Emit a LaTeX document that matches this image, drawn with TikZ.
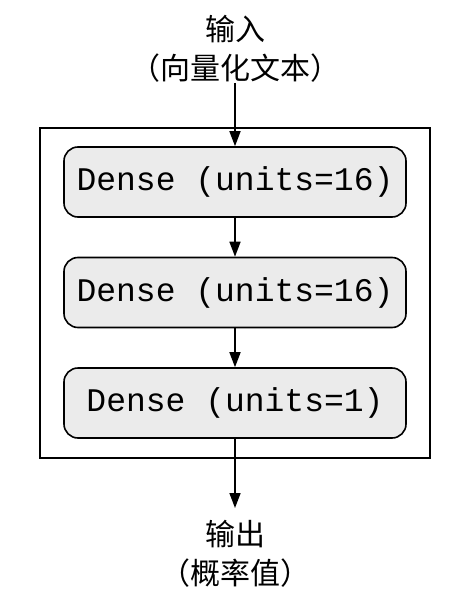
\documentclass[tikz,border=0pt]{standalone}
\usepackage{fontspec}
\newfontfamily\cjk{Noto Sans CJK SC}
\newfontfamily\monof{Liberation Mono}
\usetikzlibrary{arrows.meta}
\begin{document}
\begin{tikzpicture}[x=1pt,y=-1pt,
  layer/.style={draw=black, line width=1.6pt, rounded corners=14pt, fill=black!8, minimum width=342pt, minimum height=70pt, inner sep=0pt, font=\monof\fontsize{33}{36}\selectfont},
  lbl/.style={align=center, font=\cjk\fontsize{30}{39}\selectfont, inner sep=0pt},
  arr/.style={line width=1.6pt, -{Triangle[length=15pt,width=11pt]}}]
\useasboundingbox (0,0) rectangle (461,597);
\node[lbl] (in) at (235,49) {输入\\（向量化文本）};
\node[draw=black, line width=1.6pt, minimum width=390pt, minimum height=330pt, inner sep=0pt] (frame) at (235,293) {};
\node[layer] (d1) at (235,182) {Dense (units=16)};
\node[layer] (d2) at (235,292.5) {Dense (units=16)};
\node[layer] (d3) at (235,403) {Dense (units=1)};
\node[lbl] (out) at (235,554) {输出\\（概率值）};
\draw[arr] (in.south) -- (d1.north);
\draw[arr] (d1) -- (d2);
\draw[arr] (d2) -- (d3);
\coordinate (outtop) at (235,508);
\draw[arr] (d3.south) -- (outtop);
\end{tikzpicture}
\end{document}
